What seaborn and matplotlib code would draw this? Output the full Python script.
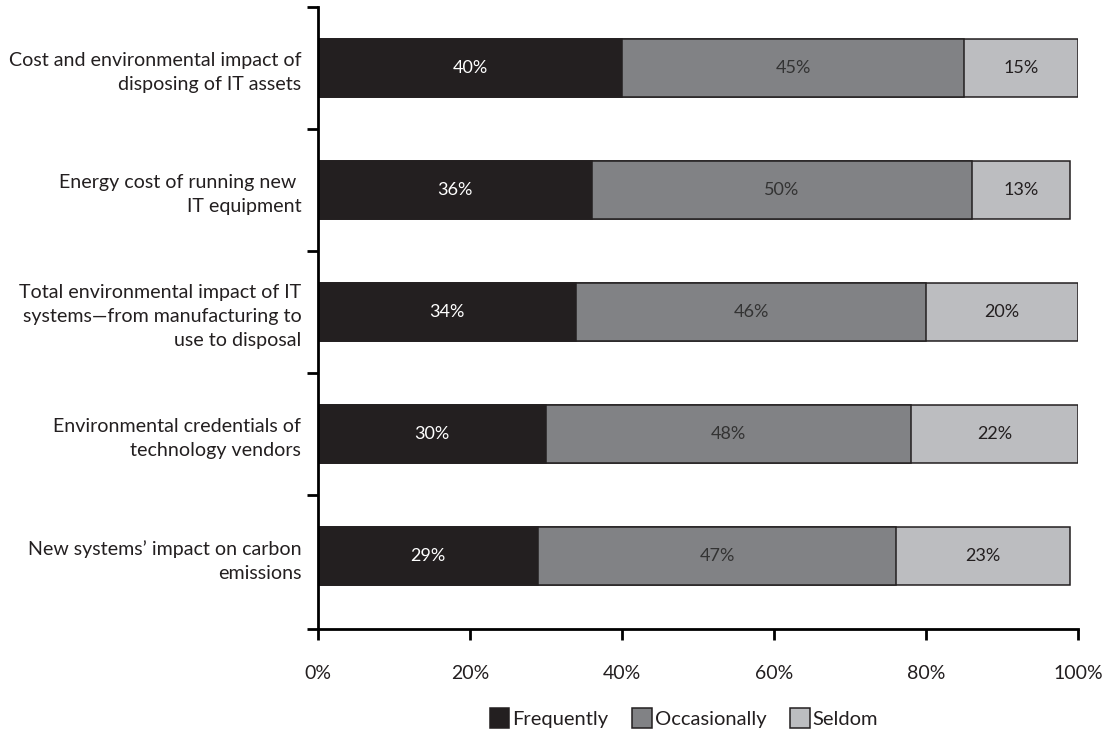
import matplotlib
matplotlib.use("Agg")
import matplotlib.pyplot as plt
import pandas as pd
import seaborn as sns
from matplotlib.patches import Patch

# Survey categories (top to bottom) and the share answering each frequency
categories = [
    "Cost and environmental impact of\ndisposing of IT assets",
    "Energy cost of running new \nIT equipment",
    "Total environmental impact of IT\nsystems\u2014from manufacturing to\nuse to disposal",
    "Environmental credentials of\ntechnology vendors",
    "New systems\u2019 impact on carbon\nemissions",
]
frequently = [40, 36, 34, 30, 29]
occasionally = [45, 50, 46, 48, 47]
seldom = [15, 13, 20, 22, 23]
series_names = ["Frequently", "Occasionally", "Seldom"]
x_ticks = [0, 20, 40, 60, 80, 100]

fill_colors = ["#231f20", "#818285", "#bcbdc0"]
text_colors = ["#ffffff", "#333333", "#231f20"]
edge_color = "#231f20"

sns.set_style("white")
plt.rcParams["font.family"] = ["Lato", "DejaVu Sans"]

df = pd.DataFrame({
    "category": categories,
    "Frequently": frequently,
    "Occasionally": occasionally,
    "Seldom": seldom,
})
cumulative = df[series_names].cumsum(axis=1)

fig = plt.figure(figsize=(11.08, 7.33), dpi=100)
ax = fig.add_axes([318 / 1108, 1 - 629 / 733, 760 / 1108, 622 / 733])

# Stacked bars: draw the running totals from the widest down so each
# segment sits on top of the next
for name, color in reversed(list(zip(series_names, fill_colors))):
    sns.barplot(
        x=cumulative[name], y=df["category"], orient="h",
        color=color, saturation=1, edgecolor=edge_color, linewidth=1.1,
        width=0.48, errorbar=None, ax=ax,
    )

# Segment value labels
for i in range(len(categories)):
    left = 0
    for name, tcolor in zip(series_names, text_colors):
        value = df[name].iloc[i]
        ax.text(left + value / 2, i, f"{value}%", ha="center", va="center",
                color=tcolor, fontsize=13)
        left += value

ax.set_xlim(0, 100)
ax.set_ylim(4.6, -0.5)
ax.set_xlabel("")
ax.set_ylabel("")

ax.set_xticks(x_ticks)
ax.set_xticklabels([f"{v}%" for v in x_ticks], fontsize=14, color="#231f20")
ax.tick_params(axis="x", direction="out", length=8, width=2, pad=18,
               color="black", bottom=True)

ax.set_yticks(range(len(categories)))
ax.set_yticklabels(categories, fontsize=14.1, color="#231f20", linespacing=1.5)
ax.tick_params(axis="y", which="major", length=0, pad=12, left=True)
ax.set_yticks([-0.5, 0.5, 1.5, 2.5, 3.5, 4.6], minor=True)
ax.tick_params(axis="y", which="minor", direction="out", length=8, width=2,
               color="black", left=True)

for side in ("top", "right"):
    ax.spines[side].set_visible(False)
for side in ("left", "bottom"):
    ax.spines[side].set_linewidth(2)
    ax.spines[side].set_color("black")
ax.grid(False)

handles = [Patch(facecolor=c, edgecolor=edge_color, linewidth=1.1, label=n)
           for c, n in zip(fill_colors, series_names)]
fig.legend(handles=handles, loc="center", ncol=3, frameon=False,
           bbox_to_anchor=(684 / 1108, 1 - 718 / 733),
           fontsize=14.5, handlelength=0.95, handleheight=1.15,
           handletextpad=0.15, columnspacing=1.2, labelcolor="#231f20")

fig.savefig("out.png", dpi=100)
